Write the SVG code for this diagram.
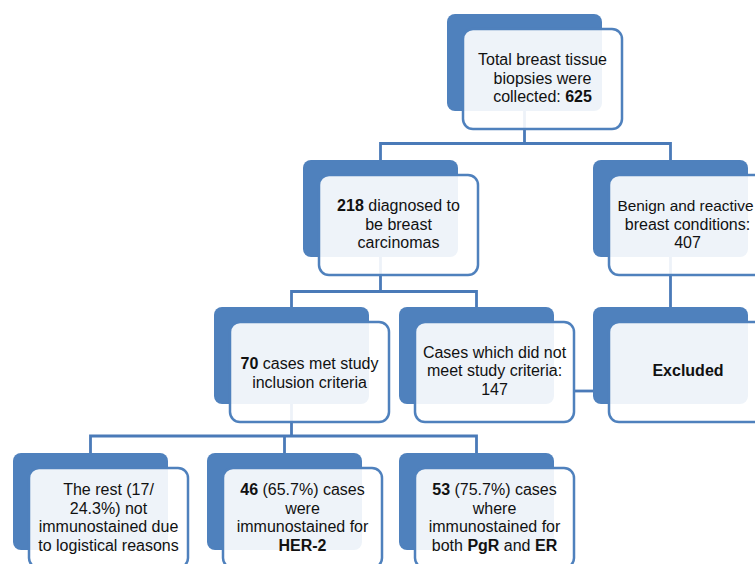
<svg xmlns="http://www.w3.org/2000/svg" width="755" height="564" viewBox="0 0 755 564">
<style>
.back{fill:#4f81bd;}
.front{fill:#ffffff;fill-opacity:0.9;stroke:#4f81bd;stroke-width:2.5;}
.conn{fill:none;stroke:#4a7ab8;stroke-width:2.8;}
text{font-family:"Liberation Sans",Arial,sans-serif;font-size:16px;fill:#111;text-anchor:middle;}
.b{font-weight:bold;}
</style>
<rect width="755" height="564" fill="#ffffff"/>
<g id="connectors">
<path class="conn" d="M524.5,111 V143.5 M380.5,160 V143.5 H670.5 V160"/>
<path class="conn" d="M380.5,257 V291.5 M291.5,307 V291.5 H476.5 V307"/>
<path class="conn" d="M670.5,257 V307"/>
<path class="conn" d="M291.5,404 V436 M90.5,453 V436 H476.5 V453 M284.5,436 V453"/>
<path class="conn" d="M574,391 H594"/>
</g>
<g id="n1">
<rect class="back" x="447" y="14" width="155" height="97" rx="8"/>
<rect class="front" x="463" y="29" width="159" height="100" rx="10"/>
<text x="542.5" y="65">Total breast tissue</text>
<text x="542.5" y="83.5">biopsies were</text>
<text x="542.5" y="102">collected: <tspan class="b">625</tspan></text>
</g>
<g id="n2">
<rect class="back" x="303" y="160" width="155" height="97" rx="8"/>
<rect class="front" x="319" y="175" width="159" height="100" rx="10"/>
<text x="398.5" y="211"><tspan class="b">218</tspan> diagnosed to</text>
<text x="398.5" y="229.5">be breast</text>
<text x="398.5" y="248">carcinomas</text>
</g>
<g id="n3">
<rect class="back" x="593" y="160" width="155" height="97" rx="8"/>
<rect class="front" x="609" y="175" width="159" height="100" rx="10"/>
<text x="685.5" y="211" style="font-size:15.4px">Benign and reactive</text>
<text x="687.5" y="229.5">breast conditions:</text>
<text x="687.5" y="248">407</text>
</g>
<g id="n4">
<rect class="back" x="214" y="307" width="155" height="97" rx="8"/>
<rect class="front" x="230" y="322" width="159" height="100" rx="10"/>
<text x="309.5" y="369"><tspan class="b">70</tspan> cases met study</text>
<text x="309.5" y="387.5">inclusion criteria</text>
</g>
<g id="n5">
<rect class="back" x="399" y="307" width="155" height="97" rx="8"/>
<rect class="front" x="415" y="322" width="159" height="100" rx="10"/>
<text x="494.5" y="357.5">Cases which did not</text>
<text x="494.5" y="376">meet study criteria:</text>
<text x="494.5" y="394.5">147</text>
</g>
<g id="n6">
<rect class="back" x="593" y="307" width="155" height="97" rx="8"/>
<rect class="front" x="609" y="322" width="159" height="100" rx="10"/>
<text class="b" x="688" y="376">Excluded</text>
</g>
<g id="n7">
<rect class="back" x="13" y="453" width="155" height="97" rx="8"/>
<rect class="front" x="29" y="468" width="159" height="100" rx="10"/>
<text x="108.5" y="495">The rest (17/</text>
<text x="108.5" y="513.5">24.3%) not</text>
<text x="108.5" y="532">immunostained due</text>
<text x="108.5" y="550.5">to logistical reasons</text>
</g>
<g id="n8">
<rect class="back" x="207" y="453" width="155" height="97" rx="8"/>
<rect class="front" x="223" y="468" width="159" height="100" rx="10"/>
<text x="302.5" y="495"><tspan class="b">46</tspan> (65.7%) cases</text>
<text x="302.5" y="513.5">were</text>
<text x="302.5" y="532">immunostained for</text>
<text class="b" x="302.5" y="550.5">HER-2</text>
</g>
<g id="n9">
<rect class="back" x="399" y="453" width="155" height="97" rx="8"/>
<rect class="front" x="415" y="468" width="159" height="100" rx="10"/>
<text x="494.5" y="495"><tspan class="b">53</tspan> (75.7%) cases</text>
<text x="494.5" y="513.5">where</text>
<text x="494.5" y="532">immunostained for</text>
<text x="494.5" y="550.5">both <tspan class="b">PgR</tspan> and <tspan class="b">ER</tspan></text>
</g>
</svg>
